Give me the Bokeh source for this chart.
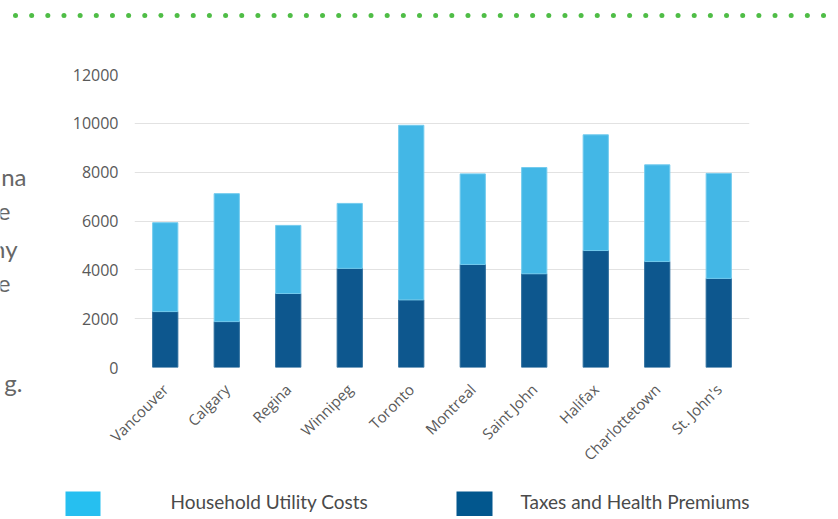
import math
from bokeh.plotting import figure
from bokeh.layouts import column, row
from bokeh.models import ColumnDataSource, FactorRange, Range1d, FixedTicker
from bokeh.core.properties import value
from bokeh.embed import file_html
from bokeh.resources import INLINE

# ---------------- data ----------------
cities = ["Vancouver", "Calgary", "Regina", "Winnipeg", "Toronto", "Montreal",
          "Saint John", "Halifax", "Charlottetown", "St. John's"]
taxes_health = [2290, 1880, 3030, 4060, 2770, 4220, 3840, 4790, 4340, 3650]
utility_costs = [3640, 5240, 2790, 2660, 7150, 3710, 4350, 4740, 3960, 4300]
y_ticks = [0, 2000, 4000, 6000, 8000, 10000, 12000]
legend_labels = ["Household Utility Costs", "Taxes and Health Premiums"]
left_text = ["na", "e", "ny", "e", "g."]

# ---------------- page layout (pixels) ----------------
TOP_H = 30            # strip with the dotted rule
LEFT_W = 60           # strip with clipped paragraph text
MAIN_W, MAIN_H = 770, 448
LEG_H = 38
TOTAL_W = LEFT_W + MAIN_W
FL, FR, FT, FB = 134, 749, 74, 367   # chart frame edges on the page

LIGHT = "#43B7E6"
DARK = "#0D578E"
LEG_LIGHT = "#26BFF0"
LEG_DARK = "#02578E"
GREEN = "#4FBD46"
TEXT = "#595959"


def deco_fig(w, h, x0, y0):
    """A figure whose frame is its whole canvas, with data units = page pixels."""
    f = figure(width=w, height=h, x_range=Range1d(x0, x0 + w), y_range=Range1d(y0 + h, y0),
               x_axis_type=None, y_axis_type=None, output_backend="svg",
               toolbar_location=None, min_border=0, frame_align=False)
    f.outline_line_color = None
    f.background_fill_color = "white"
    f.border_fill_color = "white"
    return f


# ---- dotted rule ----
top = deco_fig(TOTAL_W, TOP_H, 0, 0)
dot_x = [15 + i * 16.16 for i in range(51)]
top.scatter(x=dot_x, y=[15] * len(dot_x), size=5, fill_color=GREEN, line_color=None)

# ---- clipped paragraph text ----
left = deco_fig(LEFT_W, MAIN_H + LEG_H, 0, TOP_H)
left.text(x=[26, 10, 17, 10, 22], y=[176, 211, 248, 283, 382], text=left_text,
          text_align="right", text_baseline="alphabetic",
          text_font=value("Lato"), text_font_size="24px", text_color="#666666")

# ---- main chart ----
src = ColumnDataSource(dict(city=cities, taxes=taxes_health, utility=utility_costs))
p = figure(x_range=FactorRange(factors=cities), y_range=Range1d(0, 12000),
           width=MAIN_W, height=MAIN_H, output_backend="svg", toolbar_location=None,
           min_border_left=FL - LEFT_W, min_border_right=TOTAL_W - FR,
           min_border_top=FT - TOP_H, min_border_bottom=TOP_H + MAIN_H - FB,
           frame_align=False)
p.outline_line_color = None
p.background_fill_color = "white"
p.border_fill_color = "white"

p.vbar_stack(["taxes", "utility"], x="city", width=0.41, source=src,
             fill_color=[DARK, LIGHT], line_color=["#2C6D9C", "#73CBEE"], line_width=1)

p.yaxis.ticker = FixedTicker(ticks=y_ticks)
p.yaxis.axis_line_color = None
p.yaxis.major_tick_line_color = None
p.yaxis.minor_tick_line_color = None
p.yaxis.major_label_standoff = 10
p.yaxis.major_label_text_font = "Open Sans"
p.yaxis.major_label_text_font_size = "16px"
p.yaxis.major_label_text_color = TEXT

p.xaxis.axis_line_color = None
p.xaxis.major_tick_line_color = None
p.xaxis.major_label_orientation = math.pi / 4
p.xaxis.major_label_standoff = 13
p.xaxis.major_label_text_font = "Open Sans"
p.xaxis.major_label_text_font_size = "15px"
p.xaxis.major_label_text_color = TEXT

p.xgrid.grid_line_color = None
p.ygrid.grid_line_color = "#E2E2E2"
p.ygrid.grid_line_width = 1

# ---- legend strip ----
leg = deco_fig(MAIN_W, LEG_H, LEFT_W, TOP_H + MAIN_H)
leg.quad(left=[65, 456], right=[100, 492], top=[491, 491], bottom=[527, 527],
         fill_color=[LEG_LIGHT, LEG_DARK], line_color=None)
leg.text(x=[170, 520], y=[501, 501], text=legend_labels,
         text_align="left", text_baseline="alphabetic",
         text_font=value("Lato"), text_font_size="19px", text_color="#4A4A4A")

layout = column(top, row(left, column(p, leg, spacing=0), spacing=0), spacing=0)

open("out.html", "w").write(file_html(layout, INLINE))
